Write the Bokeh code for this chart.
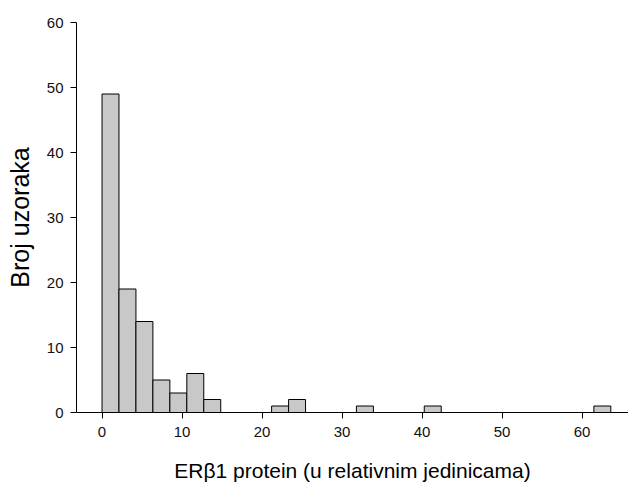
from bokeh.plotting import figure
from bokeh.models import Range1d, FixedTicker, ColumnDataSource
from bokeh.embed import file_html
from bokeh.resources import INLINE

# Histogram data
bin_start = 0.0
bin_width = 2.12
counts = [49, 19, 14, 5, 3, 6, 2, 0, 0, 0,
          1, 2, 0, 0, 0, 1, 0, 0, 0, 1,
          0, 0, 0, 0, 0, 0, 0, 0, 0, 1]
x_ticks = [0, 10, 20, 30, 40, 50, 60]
y_ticks = [0, 10, 20, 30, 40, 50, 60]
x_title = "ERβ1 protein (u relativnim jedinicama)"
y_title = "Broj uzoraka"

lefts = [bin_start + i * bin_width for i in range(len(counts))]
rights = [l + bin_width for l in lefts]
nz = [i for i, c in enumerate(counts) if c > 0]
src = ColumnDataSource(dict(
    left=[lefts[i] for i in nz],
    right=[rights[i] for i in nz],
    top=[counts[i] for i in nz],
    bottom=[0] * len(nz),
))

p = figure(width=628, height=485, output_backend="svg", toolbar_location=None,
           x_range=Range1d(-3.19, 65.81), y_range=Range1d(0, 60),
           min_border_left=76, min_border_right=0, min_border_top=22, min_border_bottom=73)
p.quad(left="left", right="right", top="top", bottom="bottom", source=src,
       fill_color="#c8c8c8", line_color="black", line_width=1)

p.outline_line_color = None
p.xgrid.grid_line_color = None
p.ygrid.grid_line_color = None
p.background_fill_color = "white"
p.border_fill_color = "white"

font = "Liberation Sans"
for ax, ticks in ((p.xaxis[0], x_ticks), (p.yaxis[0], y_ticks)):
    ax.ticker = FixedTicker(ticks=ticks)
    ax.minor_tick_line_color = None
    ax.major_tick_in = 0
    ax.major_tick_out = 6
    ax.axis_line_color = "black"
    ax.major_tick_line_color = "black"
    ax.major_label_text_font = font
    ax.major_label_text_font_size = "15px"
    ax.major_label_text_color = "#111111"
    ax.axis_label_text_font = font
    ax.axis_label_text_font_style = "normal"
    ax.axis_label_text_color = "black"

p.xaxis.axis_label = x_title
p.yaxis.axis_label = y_title
p.xaxis.axis_label_text_font_size = "21px"
p.yaxis.axis_label_text_font_size = "25px"
p.xaxis.major_label_standoff = 8
p.yaxis.major_label_standoff = 7
p.xaxis.axis_label_standoff = 19
p.yaxis.axis_label_standoff = 10

open("out.html", "w").write(file_html(p, INLINE))
